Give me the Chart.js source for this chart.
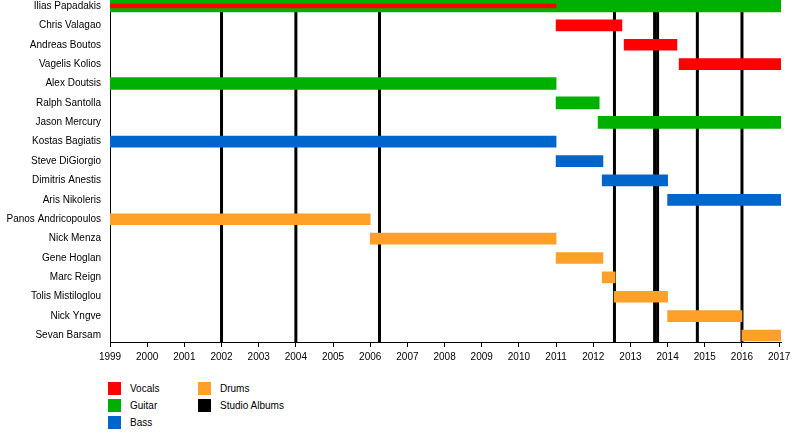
<!DOCTYPE html>
<html>
<head>
<meta charset="utf-8">
<title>Band timeline</title>
<script src="https://cdn.jsdelivr.net/npm/chart.js@4/dist/chart.umd.min.js"></script>
<style>
    body { margin: 0; background: #fff; font-family: 'Liberation Sans', Arial, sans-serif; }
    #wrap { position: relative; width: 800px; height: 362px; }
    #legend { position: absolute; left: 108px; top: 382px; display: grid; grid-template-rows: repeat(3, 17px); grid-auto-flow: column; grid-auto-columns: 90px; font-size: 10px; color: #000; }
    #legend .item { display: flex; align-items: center; height: 13px; }
    #legend .box { width: 13px; height: 13px; margin-right: 9px; }
</style>
</head>
<body>
<div id="wrap"><canvas id="timeline"></canvas></div>
<div id="legend"></div>
<script>
// members, top to bottom
var members = [
    'Ilias Papadakis', 'Chris Valagao', 'Andreas Boutos', 'Vagelis Kolios',
    'Alex Doutsis', 'Ralph Santolla', 'Jason Mercury', 'Kostas Bagiatis',
    'Steve DiGiorgio', 'Dimitris Anestis', 'Aris Nikoleris', 'Panos Andricopoulos',
    'Nick Menza', 'Gene Hoglan', 'Marc Reign', 'Tolis Mistiloglou',
    'Nick Yngve', 'Sevan Barsam'
];

// [start, end] per member, null when not playing that role
var vocals = [
    [1999, 2011.0], [2011.0, 2012.77], [2012.83, 2014.25], [2014.31, 2017.05],
    null, null, null, null, null, null, null, null, null, null, null, null, null, null
];
var guitar = [
    [1999, 2017.05], null, null, null,
    [1999, 2011.0], [2011.0, 2012.16], [2012.13, 2017.05], null,
    null, null, null, null, null, null, null, null, null, null
];
var bass = [
    null, null, null, null, null, null, null,
    [1999, 2011.0], [2011.0, 2012.26], [2012.24, 2014.0], [2014.0, 2017.05],
    null, null, null, null, null, null, null
];
var drums = [
    null, null, null, null, null, null, null, null, null, null, null,
    [1999, 2006.0], [2006.0, 2011.0], [2011.0, 2012.26], [2012.24, 2012.59],
    [2012.56, 2014.0], [2014.0, 2016.0], [2016.0, 2017.05]
];

// studio album release dates
var albums = [2002.0, 2004.0, 2006.25, 2012.57, 2013.65, 2013.73, 2014.8, 2016.0];

var years = [1999, 2000, 2001, 2002, 2003, 2004, 2005, 2006, 2007, 2008,
    2009, 2010, 2011, 2012, 2013, 2014, 2015, 2016, 2017];
var yearLabels = years.map(String);

var colors = {
    Vocals: '#ff0000',
    Guitar: '#00b000',
    Bass: '#0066cc',
    Drums: '#ffa028',
    'Studio Albums': '#000000'
};

function toPoints(arr, keep) {
    var out = [];
    arr.forEach(function (span, i) {
        if (span && keep(i)) {
            out.push({ x: span, y: i });
        }
    });
    return out;
}

// vocals on top of a guitar bar are drawn thin
var vocalsThin = toPoints(vocals, function (i) { return !!guitar[i]; });
var vocalsFull = toPoints(vocals, function (i) { return !guitar[i]; });

Chart.defaults.font.family = "'Liberation Sans', Arial, sans-serif";
Chart.defaults.font.size = 10;
Chart.defaults.color = '#000';

var albumLines = {
    id: 'albumLines',
    beforeDatasetsDraw: function (chart) {
        var ctx = chart.ctx;
        var area = chart.chartArea;
        var xs = chart.scales.x;
        ctx.save();
        ctx.strokeStyle = colors['Studio Albums'];
        ctx.lineWidth = 3;
        albums.forEach(function (d) {
            var x = xs.getPixelForValue(d);
            ctx.beginPath();
            ctx.moveTo(x, area.top);
            ctx.lineTo(x, area.bottom);
            ctx.stroke();
        });
        ctx.restore();
    }
};

new Chart(document.getElementById('timeline'), {
    type: 'bar',
    data: {
        datasets: [
            { label: 'Vocals', data: vocalsThin, backgroundColor: colors.Vocals, barThickness: 4 },
            { label: 'Vocals', data: vocalsFull, backgroundColor: colors.Vocals, barThickness: 11 },
            { label: 'Guitar', data: toPoints(guitar, function () { return true; }), backgroundColor: colors.Guitar, barThickness: 12 },
            { label: 'Bass', data: toPoints(bass, function () { return true; }), backgroundColor: colors.Bass, barThickness: 11 },
            { label: 'Drums', data: toPoints(drums, function () { return true; }), backgroundColor: colors.Drums, barThickness: 11 }
        ]
    },
    options: {
        indexAxis: 'y',
        responsive: true,
        maintainAspectRatio: false,
        animation: false,
        grouped: false,
        layout: { autoPadding: false, padding: { left: 0, right: 19, top: 0, bottom: 0 } },
        plugins: {
            legend: { display: false },
            tooltip: { enabled: false }
        },
        scales: {
            x: {
                type: 'linear',
                min: 1999,
                max: 2017.05,
                afterBuildTicks: function (scale) {
                    scale.ticks = years.map(function (v) { return { value: v }; });
                },
                afterFit: function (scale) {
                    scale.height = 20;
                },
                ticks: {
                    padding: 4,
                    maxRotation: 0,
                    autoSkip: false,
                    callback: function (v) { return yearLabels[years.indexOf(v)]; }
                },
                grid: { drawOnChartArea: false, drawTicks: true, tickLength: 5, color: '#000' },
                border: { display: true, color: '#000', width: 1 }
            },
            y: {
                type: 'linear',
                reverse: true,
                offset: false,
                min: -0.31,
                max: 17.335,
                afterBuildTicks: function (scale) {
                    scale.ticks = members.map(function (_, i) { return { value: i }; });
                },
                afterFit: function (scale) {
                    scale.width = 110;
                    scale.paddingTop = 0;
                    scale.paddingBottom = 0;
                },
                ticks: {
                    padding: 9,
                    autoSkip: false,
                    callback: function (v) { return members[v]; }
                },
                grid: { drawOnChartArea: false, drawTicks: false },
                border: { display: true, color: '#000', width: 1 }
            }
        }
    },
    plugins: [albumLines]
});

// legend
var legend = document.getElementById('legend');
['Vocals', 'Guitar', 'Bass', 'Drums', 'Studio Albums'].forEach(function (name) {
    var item = document.createElement('div');
    item.className = 'item';
    var box = document.createElement('span');
    box.className = 'box';
    box.style.background = colors[name];
    var text = document.createElement('span');
    text.textContent = name;
    item.appendChild(box);
    item.appendChild(text);
    legend.appendChild(item);
});
</script>
</body>
</html>
